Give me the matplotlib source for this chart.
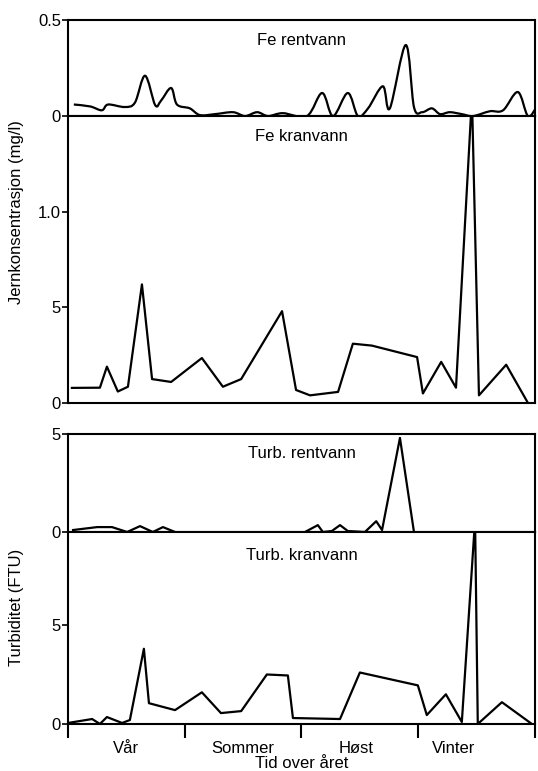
import numpy as np
import matplotlib
matplotlib.use('Agg')
import matplotlib.pyplot as plt
from matplotlib.path import Path
from matplotlib.patches import PathPatch

plt.rcParams['font.family'] = ['Liberation Sans', 'DejaVu Sans']

# x values in months from start of spring (0..12)
fe_ren_x = [0.15, 0.57, 0.87, 1.03, 1.46, 1.72, 1.98, 2.24, 2.39, 2.65, 2.80, 3.13, 3.39,
            3.78, 4.24, 4.55, 4.86, 5.14, 5.52, 6.14, 6.53, 6.81, 7.19, 7.45, 7.71, 8.09,
            8.27, 8.68, 8.89, 9.10, 9.35, 9.56, 9.81, 10.12, 10.41, 10.84, 11.18, 11.56, 11.82,
            12.05]
fe_ren_y = [0.06, 0.05, 0.03, 0.06, 0.047, 0.07, 0.21, 0.057, 0.08, 0.146, 0.06, 0.04, 0.005,
            0.01, 0.02, 0.0, 0.02, 0.0, 0.015, 0.0, 0.12, 0.0, 0.12, 0.0, 0.04, 0.155,
            0.04, 0.37, 0.047, 0.02, 0.04, 0.01, 0.02, 0.01, 0.0, 0.025, 0.03, 0.125, 0.0,
            0.05]

fe_kran_x = [0.10, 0.82, 1.00, 1.28, 1.54, 1.90, 2.16, 2.65, 3.44, 3.98, 4.45, 5.50, 5.86,
             6.22, 6.94, 7.32, 7.81, 8.97, 9.12, 9.59, 9.97, 10.38, 10.56, 11.26, 11.82]
fe_kran_y = [0.079, 0.08, 0.19, 0.06, 0.085, 0.62, 0.125, 0.11, 0.235, 0.085, 0.125, 0.48, 0.068,
             0.04, 0.058, 0.31, 0.30, 0.24, 0.05, 0.215, 0.08, 1.60, 0.04, 0.20, 0.0]

turb_ren_x = [0.13, 0.75, 1.13, 1.52, 1.85, 2.18, 2.44, 2.75, 3.0,
              6.09, 6.42, 6.55, 6.78, 6.99, 7.19, 7.63, 7.92, 8.07, 8.53, 8.89]
turb_ren_y = [0.1, 0.25, 0.25, 0.0, 0.3, 0.0, 0.25, 0.0, np.nan,
              0.0, 0.35, 0.0, 0.05, 0.35, 0.05, 0.0, 0.55, 0.1, 4.8, 0.0]

turb_kran_x = [0.0, 0.62, 0.82, 1.00, 1.39, 1.59, 1.95, 2.08, 2.75, 3.44, 3.93, 4.45, 5.11,
               5.65, 5.78, 6.99, 7.50, 8.99, 9.22, 9.71, 10.12, 10.46, 10.53, 11.15, 11.92]
turb_kran_y = [0.05, 0.25, 0.0, 0.35, 0.05, 0.2, 3.8, 1.05, 0.7, 1.6, 0.55, 0.65, 2.5,
               2.45, 0.3, 0.25, 2.6, 1.95, 0.45, 1.5, 0.1, 10.3, 0.0, 1.1, 0.0]

seasons = ['Vår', 'Sommer', 'Høst', 'Vinter']
season_pos = [1.5, 4.5, 7.4, 9.9]
season_edges = [0, 3, 6, 9, 12]


def smooth_path(x, y):
    # Catmull-Rom through the read points, drawn as cubic Bezier segments
    p = np.column_stack([x, y])
    verts = [p[0]]
    codes = [Path.MOVETO]
    for i in range(len(p) - 1):
        p0 = p[max(i - 1, 0)]
        p1, p2 = p[i], p[i + 1]
        p3 = p[min(i + 2, len(p) - 1)]
        verts += [p1 + (p2 - p0) / 6, p2 - (p3 - p1) / 6, p2]
        codes += [Path.CURVE4] * 3
    return Path(verts, codes)


fig = plt.figure(figsize=(5.38, 7.71), dpi=100)
L, W = 0.1264, 0.868
ax1 = fig.add_axes([L, 0.8495, W, 0.1245])
ax2 = fig.add_axes([L, 0.4773, W, 0.3722])
ax3 = fig.add_axes([L, 0.3100, W, 0.1271])
ax4 = fig.add_axes([L, 0.0610, W, 0.2490])

lw = 1.6
panels = [
    (ax1, fe_ren_x, fe_ren_y, (0, 0.5), [0, 0.5], ['0', '0.5'], 'Fe rentvann', 0.87),
    (ax2, fe_kran_x, fe_kran_y, (0, 1.5), [0, 0.5, 1.0], ['0', '5', '1.0'], 'Fe kranvann', 0.955),
    (ax3, turb_ren_x, turb_ren_y, (0, 5), [0, 5], ['0', '5'], 'Turb. rentvann', 0.88),
    (ax4, turb_kran_x, turb_kran_y, (0, 9.7), [0, 5], ['0', '5'], 'Turb. kranvann', 0.915),
]
for ax, x, y, yl, yt, ytl, name, ty in panels:
    if ax is ax1:
        ax.add_patch(PathPatch(smooth_path(x, y), fill=False, edgecolor='black',
                               lw=lw, joinstyle='round'))
    else:
        ax.plot(x, y, color='black', lw=lw, solid_joinstyle='round')
    ax.set_xlim(0, 12)
    ax.set_ylim(*yl)
    ax.set_yticks(yt)
    ax.set_yticklabels(ytl, fontsize=12)
    ax.tick_params(axis='y', direction='out', length=4, width=1.2, pad=1)
    ax.set_xticks([])
    for s in ax.spines.values():
        s.set_linewidth(1.5)
    ax.text(0.5, ty, name, transform=ax.transAxes, ha='center', va='top', fontsize=12)

# bottom axis with season ticks
ax4.set_xticks(season_edges)
ax4.set_xticklabels([])
ax4.tick_params(axis='x', direction='out', length=10, width=1.5)
ax4.set_xticks(season_pos, minor=True)
ax4.set_xticklabels(seasons, minor=True, fontsize=12)
ax4.tick_params(axis='x', which='minor', length=0, pad=12)
ax4.set_xlabel('Tid over året', fontsize=12, labelpad=0)

fig.text(0.03, 0.725, 'Jernkonsentrasjon (mg/l)', rotation=90, ha='center', va='center', fontsize=12)
fig.text(0.03, 0.212, 'Turbiditet (FTU)', rotation=90, ha='center', va='center', fontsize=12)

fig.savefig('out.png', dpi=100)
